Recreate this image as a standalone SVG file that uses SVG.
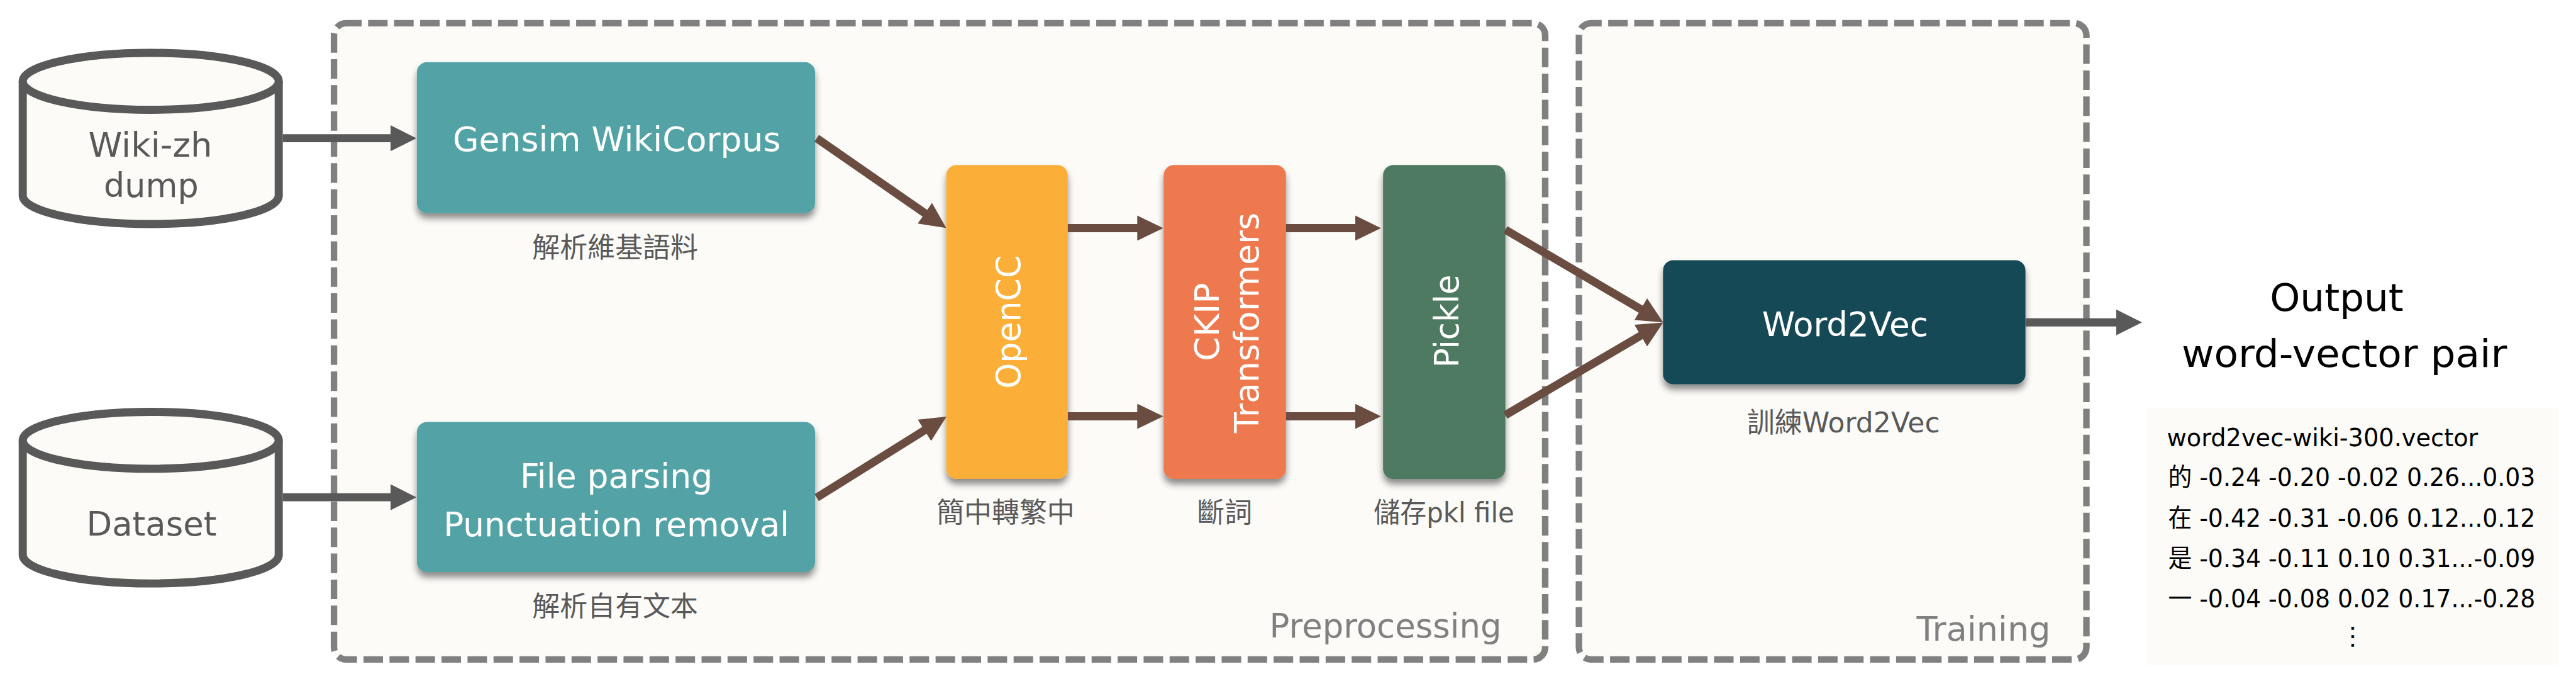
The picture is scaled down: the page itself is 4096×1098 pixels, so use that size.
<svg xmlns="http://www.w3.org/2000/svg" width="4096" height="1098" viewBox="0 0 4096 1098">
<style>
text{font-family:"DejaVu Sans","Noto Sans CJK TC",sans-serif;text-anchor:middle;}
.zone{fill:#FCFBF8;stroke:#808080;stroke-width:16;stroke-dasharray:48 16}
.cyl{fill:#FCFBF8;stroke:#595959;stroke-width:20}
.box{filter:url(#sh)}
.t{font-size:82px;fill:#fff}
.d{font-size:82px;fill:#595959}
.c{font-size:68px;fill:#595959}
.z{font-size:82px;fill:#808080}
.o{font-size:95px;fill:#000}
.v{font-size:61px;fill:#000;text-anchor:start}
.br{stroke:#6B4C40;stroke-width:20;fill:none;marker-end:url(#hb)}
.gr{stroke:#595959;stroke-width:20;fill:none;marker-end:url(#hg)}
</style>
<defs>
<filter id="sh" x="-10%" y="-10%" width="120%" height="125%"><feDropShadow dx="0" dy="13" stdDeviation="8" flood-color="#000" flood-opacity="0.45"/></filter>
<marker id="hb" markerUnits="userSpaceOnUse" markerWidth="65" markerHeight="62" refX="1" refY="31" orient="auto"><path d="M0 0L64 31L0 62Z" fill="#6B4C40"/></marker>
<marker id="hg" markerUnits="userSpaceOnUse" markerWidth="65" markerHeight="64" refX="1" refY="32" orient="auto"><path d="M0 0L64 32L0 64Z" fill="#595959"/></marker>
</defs>
<rect width="4096" height="1098" fill="#fff"/>
<g transform="scale(0.64606)">
<g id="zones">
<g id="preprocessing"><path class="zone" stroke-dashoffset="10" d="M852 57H3773A30 30 0 0 1 3803 87V1592A30 30 0 0 1 3773 1622H852A30 30 0 0 1 822 1592V87A30 30 0 0 1 852 57Z"/><text class="z" x="3410" y="1568" textLength="571" lengthAdjust="spacingAndGlyphs">Preprocessing</text></g>
<g id="training"><path class="zone" stroke-dashoffset="22" d="M3916 57H5105A30 30 0 0 1 5135 87V1592A30 30 0 0 1 5105 1622H3916A30 30 0 0 1 3886 1592V87A30 30 0 0 1 3916 57Z"/><text class="z" x="4882" y="1575" textLength="330" lengthAdjust="spacingAndGlyphs">Training</text></g>
</g>
<g id="wiki"><path class="cyl" d="M56 200V481A315 70 0 0 0 686 481V200"/><ellipse class="cyl" cx="371" cy="200" rx="315" ry="70"/><text class="d" x="370" y="385" textLength="305" lengthAdjust="spacingAndGlyphs">Wiki-zh</text><text class="d" x="372" y="485" textLength="233" lengthAdjust="spacingAndGlyphs">dump</text></g>
<g id="dataset"><path class="cyl" d="M56 1083V1365A315 70 0 0 0 686 1365V1083"/><ellipse class="cyl" cx="371" cy="1083" rx="315" ry="70"/><text class="d" x="373" y="1317" textLength="320" lengthAdjust="spacingAndGlyphs">Dataset</text></g>
<g id="gensim"><rect class="box" x="1026" y="153" width="980" height="371" rx="25" fill="#52A3A6"/><text class="t" x="1518" y="371" textLength="807" lengthAdjust="spacingAndGlyphs">Gensim WikiCorpus</text><text class="c" x="1514" y="633">解析維基語料</text></g>
<g id="fileparse"><rect class="box" x="1026" y="1038" width="980" height="369" rx="25" fill="#52A3A6"/><text class="t" x="1517" y="1200" textLength="474" lengthAdjust="spacingAndGlyphs">File parsing</text><text class="t" x="1517" y="1319" textLength="851" lengthAdjust="spacingAndGlyphs">Punctuation removal</text><text class="c" x="1514" y="1515">解析自有文本</text></g>
<g id="opencc"><rect class="box" x="2329" y="406" width="299" height="772" rx="25" fill="#FCAF38"/><text class="t" transform="translate(2511 792) rotate(-90)" textLength="328" lengthAdjust="spacingAndGlyphs">OpenCC</text><text class="c" x="2475" y="1284">簡中轉繁中</text></g>
<g id="ckip"><rect class="box" x="2864" y="406" width="301" height="772" rx="25" fill="#EF7950"/><text class="t" transform="translate(3000 792) rotate(-90)" textLength="193" lengthAdjust="spacingAndGlyphs">CKIP</text><text class="t" transform="translate(3098 794) rotate(-90)" textLength="542" lengthAdjust="spacingAndGlyphs">Transformers</text><text class="c" x="3014" y="1284">斷詞</text></g>
<g id="pickle"><rect class="box" x="3404" y="406" width="301" height="772" rx="25" fill="#4D7A60"/><text class="t" transform="translate(3589 790) rotate(-90)" textLength="229" lengthAdjust="spacingAndGlyphs">Pickle</text><text class="c" x="3554" y="1284" textLength="346" lengthAdjust="spacingAndGlyphs">儲存pkl file</text></g>
<g id="word2vec"><rect class="box" x="4093" y="640" width="892" height="305" rx="25" fill="#174A57"/><text class="t" x="4541" y="826" textLength="409" lengthAdjust="spacingAndGlyphs">Word2Vec</text><text class="c" x="4537" y="1063" textLength="475" lengthAdjust="spacingAndGlyphs">訓練Word2Vec</text></g>
<g id="output"><text class="o" x="5751" y="764" textLength="329" lengthAdjust="spacingAndGlyphs">Output</text><text class="o" x="5770" y="902" textLength="801" lengthAdjust="spacingAndGlyphs">word-vector pair</text>
<rect x="5283" y="1004" width="1015" height="631" fill="#FCFBF8"/>
<text class="v" x="5333" y="1097" textLength="766" lengthAdjust="spacingAndGlyphs">word2vec-wiki-300.vector</text>
<text class="v" x="5336" y="1195" textLength="904" lengthAdjust="spacingAndGlyphs">的 -0.24 -0.20 -0.02 0.26...0.03</text>
<text class="v" x="5336" y="1295" textLength="904" lengthAdjust="spacingAndGlyphs">在 -0.42 -0.31 -0.06 0.12...0.12</text>
<text class="v" x="5336" y="1394" textLength="904" lengthAdjust="spacingAndGlyphs">是 -0.34 -0.11 0.10 0.31...-0.09</text>
<text class="v" x="5336" y="1494" textLength="904" lengthAdjust="spacingAndGlyphs">一 -0.04 -0.08 0.02 0.17...-0.28</text>
<text x="5790" y="1585" font-size="61">⋮</text></g>
<g id="connectors">
<path class="gr" d="M696 340H962"/>
<path class="gr" d="M696 1223H962"/>
<path class="br" d="M2010 340L2277 525"/>
<path class="br" d="M2010 1224L2276 1058"/>
<path class="br" d="M2628 561H2800"/>
<path class="br" d="M2628 1024H2800"/>
<path class="br" d="M3165 561H3336"/>
<path class="br" d="M3165 1024H3336"/>
<path class="br" d="M3705 565L4039 761"/>
<path class="br" d="M3705 1021L4039 825"/>
<path class="gr" d="M4985 793H5209"/>
</g>
</g>
</svg>
